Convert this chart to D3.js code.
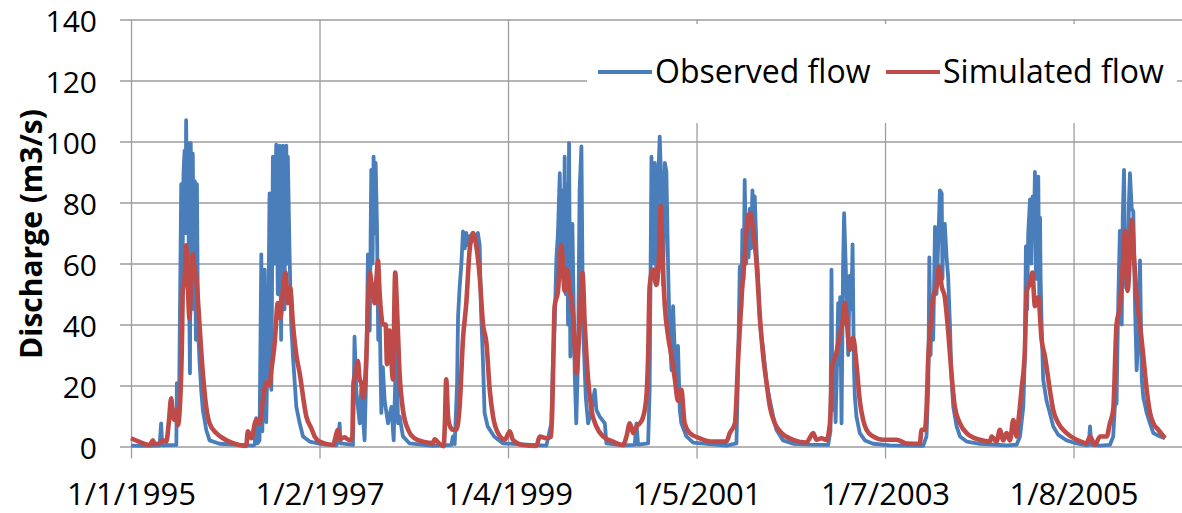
<!DOCTYPE html>
<html>
<head>
<meta charset="utf-8">
<script src="https://cdn.jsdelivr.net/npm/d3@7"></script>
<style>
  body { margin: 0; background: #fff; }
  text { font-family: "Open Sans", sans-serif; fill: #000; }
</style>
</head>
<body>
<div id="chart"></div>
<script>
// Daily discharge (date as year-dayOfYear, value in m3/s)
const observed = [
  ["1995-001",0.3],["1995-040",0.2],["1995-112",0.3],["1995-118",7.6],["1995-122",0.4],["1995-177",0.5],["1995-179",20.8],["1995-187",10],["1995-193",60],["1995-196",86],["1995-200",45],["1995-203",75],["1995-205",90],["1995-209",97],["1995-213",70],["1995-215",107],["1995-219",80],["1995-222",99.5],["1995-226",55],["1995-230",24],["1995-233",99.5],["1995-237",60],["1995-241",96],["1995-245",45],["1995-249",87],["1995-253",35],["1995-257",86],["1995-261",40],["1995-267",28],["1995-274",18],["1995-280",12],["1995-293",5.5],["1995-306",2],["1995-345",0.9],
  ["1996-109",0.3],["1996-116",0.5],["1996-122",9.3],["1996-127",1],["1996-135",2],["1996-142",63],["1996-146",5],["1996-155",58],["1996-161",8],["1996-169",40],["1996-174",83],["1996-181",18.6],["1996-187",95],["1996-190",70],["1996-194",60],["1996-197",85],["1996-200",99],["1996-203",75],["1996-206",50],["1996-210",90],["1996-213",98.6],["1996-216",60],["1996-219",35],["1996-222",80],["1996-226",98.6],["1996-229",70],["1996-232",45],["1996-235",85],["1996-239",98.6],["1996-242",60],["1996-245",95],["1996-252",62],["1996-258",40],["1996-265",29.5],["1996-278",13],["1996-291",7.6],["1996-304",3.3],["1996-330",1.6],
  ["1997-002",0.9],["1997-067",0.4],["1997-077",2],["1997-080",7.6],["1997-084",1],["1997-132",0.5],["1997-138",36],["1997-145",18],["1997-158",7.6],["1997-164",18.6],["1997-177",2],["1997-184",26],["1997-190",63],["1997-197",38],["1997-203",90.7],["1997-208",60],["1997-212",95],["1997-216",70],["1997-220",93],["1997-225",73],["1997-230",35],["1997-235",47],["1997-242",11],["1997-248",26],["1997-255",15],["1997-268",7.6],["1997-281",13],["1997-290",2],["1997-300",34],["1997-307",7.6],["1997-313",9.8],["1997-326",3.3],["1997-352",1],
  ["1998-078",0.2],["1998-149",0.5],["1998-155",3.3],["1998-162",0.8],["1998-171",20],["1998-175",42.6],["1998-181",52],["1998-188",60],["1998-194",70.5],["1998-201",65],["1998-207",70],["1998-214",66],["1998-220",69],["1998-226",67],["1998-233",70],["1998-240",68],["1998-252",70],["1998-259",66],["1998-264",45],["1998-271",29.5],["1998-278",11],["1998-290",6.6],["1998-315",3.3],["1998-350",1],
  ["1999-153",0.3],["1999-172",7.6],["1999-179",29.5],["1999-185",40],["1999-192",62],["1999-198",70],["1999-205",89.6],["1999-210",60],["1999-215",84],["1999-220",55],["1999-224",95],["1999-228",50],["1999-233",86],["1999-237",40],["1999-241",99.5],["1999-246",29.5],["1999-254",73],["1999-263",24],["1999-269",7.6],["1999-276",29.5],["1999-282",84],["1999-289",98.4],["1999-295",40],["1999-306",16],["1999-315",7.6],["1999-328",12],["1999-341",18.6],["1999-347",12],["1999-360",9.8],
  ["2000-015",7.6],["2000-021",1],["2000-086",0.4],["2000-131",0.5],["2000-138",7.6],["2000-144",0.6],["2000-183",1],["2000-189",18.6],["2000-196",95],["2000-202",60],["2000-209",93],["2000-215",55],["2000-222",87],["2000-228",101.6],["2000-235",84],["2000-241",53],["2000-248",93],["2000-254",90],["2000-261",57],["2000-267",36],["2000-274",25],["2000-280",46],["2000-287",29.5],["2000-293",22],["2000-299",33],["2000-306",12],["2000-312",7.6],["2000-332",3.3],["2000-358",1.3],
  ["2001-056",0.8],["2001-121",0.3],["2001-160",1],["2001-166",24],["2001-173",59],["2001-179",45],["2001-183",71],["2001-188",55],["2001-192",87.4],["2001-198",60],["2001-201",73],["2001-207",62],["2001-212",78],["2001-217",65],["2001-222",84],["2001-227",70],["2001-231",82],["2001-238",64.5],["2001-244",55.7],["2001-251",40],["2001-264",31.7],["2001-277",20.8],["2001-290",15],["2001-303",9.8],["2001-315",5.5],["2001-341",2],
  ["2002-015",0.9],["2002-080",0.6],["2002-151",0.5],["2002-160",5],["2002-164",58],["2002-168",12],["2002-173",30],["2002-180",8],["2002-185",25],["2002-190",47],["2002-196",27],["2002-198",49],["2002-203",7.6],["2002-209",59],["2002-213",76.5],["2002-222",52],["2002-229",30],["2002-235",56],["2002-241",45],["2002-246",66.3],["2002-251",26],["2002-255",16],["2002-261",9.8],["2002-274",4.4],["2002-294",2],["2002-326",0.9],
  ["2003-026",0.4],["2003-155",0.2],["2003-168",3.3],["2003-175",20],["2003-179",62],["2003-184",30],["2003-188",49],["2003-194",35],["2003-201",72],["2003-207",50],["2003-214",68],["2003-220",84],["2003-227",83],["2003-230",55],["2003-233",71],["2003-239",73],["2003-246",62],["2003-252",55.7],["2003-259",40],["2003-265",22.5],["2003-272",13],["2003-285",6.6],["2003-298",3.3],["2003-324",1.6],
  ["2004-010",0.9],["2004-114",0.4],["2004-153",0.6],["2004-166",3.3],["2004-179",13],["2004-185",30],["2004-189",65.6],["2004-194",45],["2004-198",70],["2004-205",81],["2004-210",60],["2004-215",82],["2004-220",70],["2004-224",90],["2004-228",55],["2004-233",75],["2004-237",88.5],["2004-241",50],["2004-244",75],["2004-246",55.7],["2004-250",40],["2004-256",22],["2004-269",15],["2004-282",11],["2004-295",6.6],["2004-315",3.8],["2004-347",2],
  ["2005-020",1],["2005-059",0.4],["2005-067",0.5],["2005-072",6.6],["2005-077",0.5],["2005-111",0.3],["2005-149",0.5],["2005-162",3.3],["2005-169",14],["2005-175",14],["2005-178",30],["2005-182",49],["2005-188",70.7],["2005-195",40],["2005-199",75],["2005-204",90.7],["2005-208",60],["2005-212",52],["2005-216",70],["2005-219",55.7],["2005-223",80],["2005-227",89.6],["2005-234",78],["2005-240",77],["2005-247",45],["2005-253",25],["2005-260",36],["2005-266",61],["2005-273",22],["2005-279",16],["2005-292",11],["2005-305",7.6],["2005-318",4.4],["2005-344",3.3],["2005-363",2.7]
];

const simulated = [
  ["1995-001",2.7],["1995-034",1.5],["1995-073",0.5],["1995-086",2],["1995-092",0.8],["1995-112",1],["1995-125",2],["1995-138",1.5],["1995-148",8],["1995-157",15.8],["1995-164",10],["1995-170",8.7],["1995-177",12],["1995-183",7],["1995-192",15],["1995-199",35],["1995-202",51],["1995-209",55],["1995-215",66],["1995-222",52],["1995-228",42],["1995-235",55],["1995-241",63],["1995-248",58],["1995-254",56],["1995-261",48],["1995-267",40],["1995-280",24],["1995-293",13],["1995-306",7.6],["1995-332",4.4],["1995-358",2.7],
  ["1996-032",1.1],["1996-083",0.2],["1996-090",5],["1996-103",2.7],["1996-122",8.7],["1996-135",7.6],["1996-148",15],["1996-161",21],["1996-174",20],["1996-181",25],["1996-194",34],["1996-206",47],["1996-216",42],["1996-226",51],["1996-236",57],["1996-245",47],["1996-254",52],["1996-265",40],["1996-278",30],["1996-291",24],["1996-317",9.8],["1996-336",6],["1996-349",3.3],
  ["1997-002",1.6],["1997-054",0.5],["1997-074",5.5],["1997-080",2.5],["1997-099",3],["1997-119",2],["1997-129",3],["1997-134",20.8],["1997-142",24],["1997-151",28],["1997-158",22],["1997-164",20.8],["1997-171",16],["1997-184",29.5],["1997-190",45],["1997-197",57],["1997-203",54],["1997-210",50],["1997-216",47],["1997-223",55],["1997-229",61],["1997-235",51],["1997-242",43],["1997-248",40],["1997-259",40],["1997-264",27],["1997-274",38],["1997-287",22],["1997-296",57],["1997-303",45],["1997-313",24],["1997-326",12],["1997-346",5.5],
  ["1998-006",2.7],["1998-039",1.6],["1998-078",1.1],["1998-084",2.4],["1998-104",0.8],["1998-119",0.1],["1998-124",8],["1998-129",22],["1998-136",10],["1998-142",7],["1998-155",5.5],["1998-168",5.5],["1998-181",13],["1998-194",35],["1998-207",47],["1998-220",64.5],["1998-233",70],["1998-246",65.6],["1998-259",55.7],["1998-272",40],["1998-285",34],["1998-298",18.6],["1998-311",9.8],["1998-330",4.4],["1998-356",2.2],
  ["1999-011",5],["1999-023",2.2],["1999-062",0.5],["1999-114",0.2],["1999-127",3.3],["1999-153",2.7],["1999-172",3.3],["1999-179",24],["1999-185",46],["1999-198",51],["1999-211",66],["1999-224",51],["1999-233",58],["1999-244",51],["1999-257",43],["1999-270",24],["1999-282",40],["1999-293",57],["1999-302",40],["1999-315",22],["1999-328",12],["1999-347",6.6],
  ["2000-008",3.3],["2000-047",1.6],["2000-086",0.5],["2000-099",3.3],["2000-112",7.6],["2000-125",4.4],["2000-138",6.6],["2000-151",7.6],["2000-164",9.8],["2000-176",16],["2000-183",29.5],["2000-189",52.5],["2000-202",58],["2000-215",53],["2000-225",62],["2000-232",79],["2000-239",62],["2000-248",46],["2000-261",36],["2000-274",29.5],["2000-287",22],["2000-299",15],["2000-312",18.6],["2000-325",7.6],["2000-345",4.4],
  ["2001-018",2.7],["2001-069",1.6],["2001-121",1.6],["2001-134",4.4],["2001-154",7.6],["2001-167",29.5],["2001-180",49],["2001-192",62],["2001-205",75.4],["2001-214",76.5],["2001-225",71],["2001-238",60],["2001-251",42.6],["2001-264",29.5],["2001-277",20.8],["2001-290",13],["2001-309",7.6],["2001-335",4.4],
  ["2002-015",2.2],["2002-067",1.3],["2002-093",4.4],["2002-106",2.2],["2002-125",2.7],["2002-145",2.2],["2002-158",7.6],["2002-168",27],["2002-180",29.5],["2002-195",36],["2002-206",40],["2002-216",47],["2002-223",42],["2002-235",31.7],["2002-248",35.6],["2002-261",27],["2002-274",15],["2002-287",8.7],["2002-300",5.5],["2002-326",3.3],["2002-365",2.2],
  ["2003-052",2.2],["2003-091",1],["2003-142",0.9],["2003-149",5.5],["2003-162",5.5],["2003-168",12],["2003-175",29.5],["2003-184",40],["2003-194",49],["2003-207",52.5],["2003-217",59],["2003-227",52.5],["2003-239",49],["2003-252",38],["2003-265",24],["2003-278",13],["2003-298",7.6],["2003-324",4.4],
  ["2004-010",2.2],["2004-049",1.6],["2004-056",3.3],["2004-075",1.6],["2004-088",5.5],["2004-101",2],["2004-114",4.4],["2004-127",2],["2004-140",8.7],["2004-153",3.3],["2004-159",7.6],["2004-172",18.6],["2004-185",31.7],["2004-192",51],["2004-205",53.5],["2004-214",57],["2004-224",46],["2004-237",49],["2004-250",35],["2004-263",29.5],["2004-282",18.6],["2004-295",12],["2004-315",7.6],["2004-347",4.4],
  ["2005-020",2.2],["2005-059",1.1],["2005-072",3.3],["2005-091",0.5],["2005-111",3.3],["2005-137",3.3],["2005-149",7.6],["2005-162",12],["2005-175",40],["2005-188",46],["2005-201",62],["2005-208",70.7],["2005-218",51],["2005-234",74.3],["2005-243",62],["2005-253",49],["2005-266",40],["2005-279",29.5],["2005-292",18.6],["2005-305",11],["2005-318",7.6],["2005-337",5.5],["2005-363",2.7]
];

const xTickLabels = ["1/1/1995", "1/2/1997", "1/4/1999", "1/5/2001", "1/7/2003", "1/8/2005"];
const xAxisEnd = "1/9/2007";
const yTicks = [0, 20, 40, 60, 80, 100, 120, 140];
const seriesNames = ["Observed flow", "Simulated flow"];
const seriesColors = ["#4a7ebb", "#be4b48"];

const width = 1182, height = 513;
const parseDay = d3.timeParse("%Y-%j");
const parseTick = d3.timeParse("%m/%d/%Y");

const obs = observed.map(d => ({date: parseDay(d[0]), value: d[1]}));
const sim = simulated.map(d => ({date: parseDay(d[0]), value: d[1]}));
const xTickDates = xTickLabels.map(parseTick);

const x = d3.scaleTime()
    .domain([xTickDates[0], parseTick(xAxisEnd)])
    .range([131, 1261.8]);

const y = d3.scaleLinear()
    .domain([0, 140])
    .range([446.5, 19.5]);

const svg = d3.select("#chart")
    .append("svg")
    .attr("width", width)
    .attr("height", height);

const gridColor = "#9d9d9d";

// y axis + horizontal gridlines
const yAxis = svg.append("g")
    .attr("transform", "translate(131,0)")
    .call(d3.axisLeft(y).tickValues(yTicks).tickSize(-(width - 131)).tickPadding(34));
yAxis.select(".domain").remove();
yAxis.selectAll(".tick line")
    .attr("x1", -11)
    .attr("stroke", gridColor)
    .attr("stroke-width", 1.3);
yAxis.selectAll(".tick text")
    .attr("font-family", "Open Sans")
    .attr("font-size", 30)
    .attr("dy", "0.41em")
    .attr("fill", "#000");

// x axis + vertical gridlines
const xAxis = svg.append("g")
    .attr("transform", "translate(0,446.5)")
    .call(d3.axisBottom(x).tickValues(xTickDates).tickFormat((d, i) => xTickLabels[i])
        .tickSize(-(446.5 - 19.5)).tickPadding(36));
xAxis.select(".domain").remove();
xAxis.selectAll(".tick line")
    .attr("y1", 12)
    .attr("stroke", gridColor)
    .attr("stroke-width", 1.3);
xAxis.selectAll(".tick text")
    .attr("font-family", "Open Sans")
    .attr("font-size", 31)
    .attr("fill", "#000");

// y axis title
svg.append("text")
    .attr("transform", "translate(42,234) rotate(-90)")
    .attr("text-anchor", "middle")
    .attr("font-size", 30)
    .attr("font-weight", "bold")
    .text("Discharge (m3/s)");

// series
const lineObs = d3.line()
    .x(d => x(d.date))
    .y(d => y(d.value));

const lineSim = d3.line()
    .curve(d3.curveMonotoneX)
    .x(d => x(d.date))
    .y(d => y(d.value));

svg.append("path")
    .datum(obs)
    .attr("fill", "none")
    .attr("stroke", seriesColors[0])
    .attr("stroke-width", 3.8)
    .attr("stroke-linejoin", "round")
    .attr("d", lineObs);

svg.append("path")
    .datum(sim)
    .attr("fill", "none")
    .attr("stroke", seriesColors[1])
    .attr("stroke-width", 4.6)
    .attr("stroke-linejoin", "round")
    .attr("d", lineSim);

// legend
const legend = svg.append("g");
legend.append("rect")
    .attr("x", 587)
    .attr("y", 24)
    .attr("width", 590)
    .attr("height", 99)
    .attr("fill", "#fff");

const legendX = [598, 886];
seriesNames.forEach((name, i) => {
  legend.append("line")
      .attr("x1", legendX[i])
      .attr("x2", legendX[i] + 54)
      .attr("y1", 72)
      .attr("y2", 72)
      .attr("stroke", seriesColors[i])
      .attr("stroke-width", 4);
  legend.append("text")
      .attr("x", legendX[i] + 57)
      .attr("y", 72)
      .attr("dy", "0.35em")
      .attr("font-size", 32)
      .text(name);
});
</script>
</body>
</html>
